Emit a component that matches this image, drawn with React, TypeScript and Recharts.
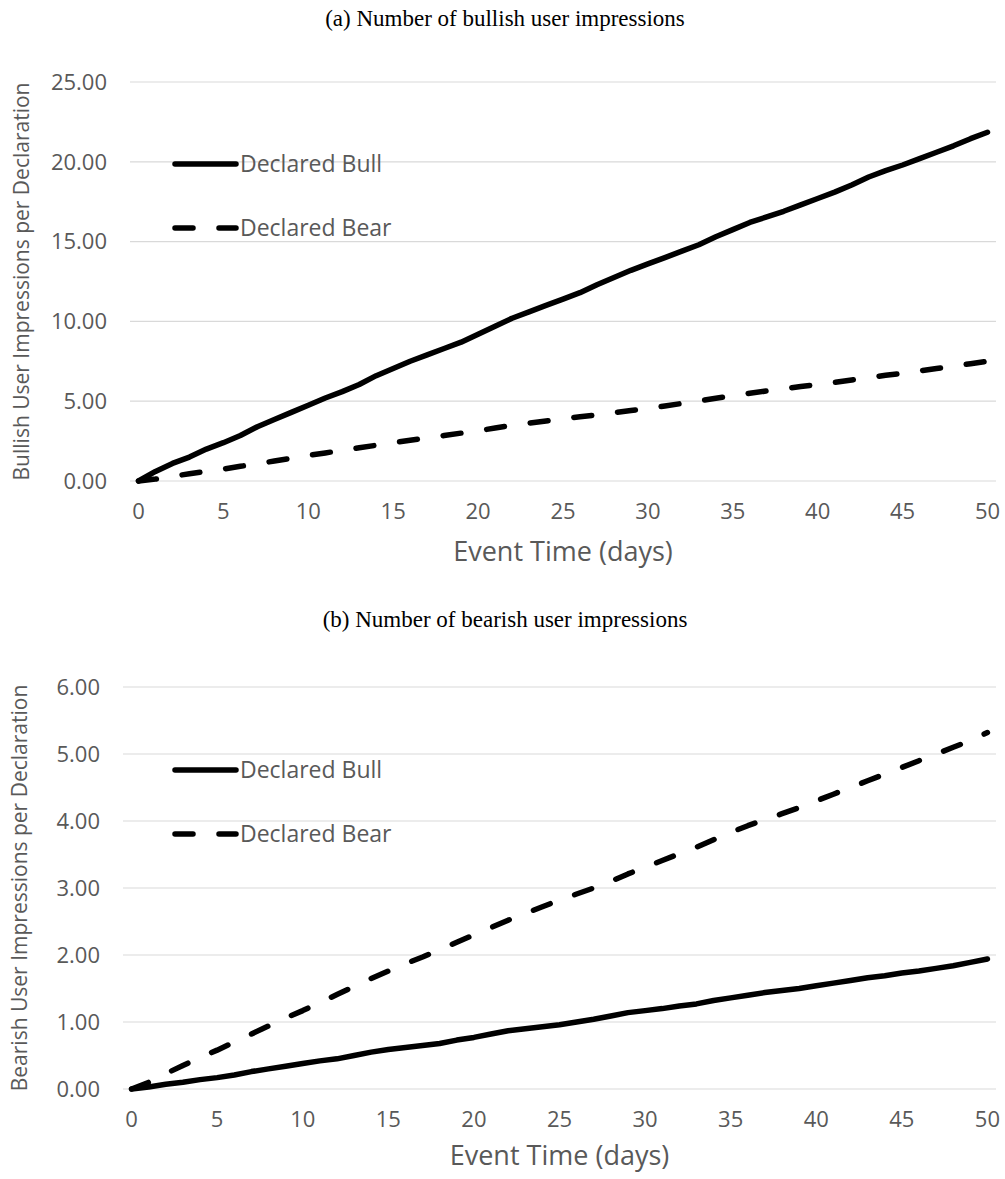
import React from "react";
import { LineChart, Line, XAxis, YAxis, CartesianGrid } from "recharts";

// event days 0..50
const days = [
  0, 1, 2, 3, 4, 5, 6, 7, 8, 9, 10, 11, 12, 13, 14, 15, 16, 17, 18, 19, 20,
  21, 22, 23, 24, 25, 26, 27, 28, 29, 30, 31, 32, 33, 34, 35, 36, 37, 38, 39,
  40, 41, 42, 43, 44, 45, 46, 47, 48, 49, 50,
];

// (a) bullish user impressions per declaration
const bullishDeclaredBull = [
  0, 0.6, 1.1, 1.5, 2.0, 2.4, 2.85, 3.4, 3.85, 4.3, 4.75, 5.2, 5.6, 6.05,
  6.6, 7.05, 7.5, 7.9, 8.3, 8.7, 9.2, 9.7, 10.2, 10.6, 11.0, 11.4, 11.8, 12.3,
  12.75, 13.2, 13.6, 14.0, 14.4, 14.8, 15.3, 15.75, 16.2, 16.55, 16.9, 17.3,
  17.7, 18.1, 18.55, 19.05, 19.45, 19.8, 20.2, 20.6, 21.0, 21.45, 21.85,
];
const bullishDeclaredBear = [
  0, 0.12, 0.3, 0.45, 0.6, 0.75, 0.92, 1.08, 1.25, 1.42, 1.6, 1.76, 1.92,
  2.08, 2.24, 2.4, 2.55, 2.7, 2.85, 3.0, 3.15, 3.32, 3.5, 3.63, 3.76, 3.9,
  4.02, 4.15, 4.28, 4.42, 4.55, 4.7, 4.86, 5.02, 5.18, 5.35, 5.5, 5.64, 5.78,
  5.92, 6.05, 6.18, 6.33, 6.48, 6.62, 6.75, 6.9, 7.05, 7.2, 7.35, 7.5,
];

// (b) bearish user impressions per declaration
const bearishDeclaredBull = [
  0, 0.03, 0.07, 0.1, 0.14, 0.17, 0.21, 0.26, 0.3, 0.34, 0.38, 0.42, 0.45,
  0.5, 0.55, 0.59, 0.62, 0.65, 0.68, 0.73, 0.77, 0.82, 0.87, 0.9, 0.93, 0.96,
  1.0, 1.04, 1.09, 1.14, 1.17, 1.2, 1.24, 1.27, 1.32, 1.36, 1.4, 1.44, 1.47,
  1.5, 1.54, 1.58, 1.62, 1.66, 1.69, 1.73, 1.76, 1.8, 1.84, 1.89, 1.94,
];
const bearishDeclaredBear = [
  0, 0.1, 0.23, 0.35, 0.47, 0.58, 0.7, 0.82, 0.94, 1.06, 1.17, 1.29, 1.41,
  1.53, 1.65, 1.76, 1.87, 1.97, 2.08, 2.19, 2.3, 2.41, 2.52, 2.62, 2.72, 2.82,
  2.91, 3.0, 3.1, 3.21, 3.31, 3.41, 3.51, 3.61, 3.72, 3.83, 3.93, 4.02, 4.11,
  4.2, 4.3, 4.4, 4.5, 4.6, 4.7, 4.8, 4.9, 5.0, 5.1, 5.2, 5.32,
];

const seriesNames = ["Declared Bull", "Declared Bear"];
const xTicks = [0, 5, 10, 15, 20, 25, 30, 35, 40, 45, 50];
const yTicksA = [0, 5, 10, 15, 20, 25];
const yTicksB = [0, 1, 2, 3, 4, 5, 6];

const FONT = "'Open Sans', 'Noto Sans', sans-serif";
const GRAY = "#595959";
const DASH = "18 26";

const buildRows = (bull: number[], bear: number[]) =>
  days.map((d, i) => ({ day: d, bull: bull[i], bear: bear[i] }));

// legend drawn as an overlay so it does not eat into the plot area
const LegendBox = ({ top }: { top: number }) => (
  <svg
    width={280}
    height={100}
    style={{ position: "absolute", left: 170, top, overflow: "visible" }}
  >
    <line x1={5} x2={66} y1={14} y2={14} stroke="#000" strokeWidth={5.5} strokeLinecap="round" />
    <text x={70} y={14} dy="0.35em" fontSize={23} fill={GRAY} fontFamily={FONT}>
      {seriesNames[0]}
    </text>
    <line x1={5} x2={66} y1={78} y2={78} stroke="#000" strokeWidth={5.5} strokeLinecap="round" strokeDasharray={DASH} />
    <text x={70} y={78} dy="0.35em" fontSize={23} fill={GRAY} fontFamily={FONT}>
      {seriesNames[1]}
    </text>
  </svg>
);

type PanelProps = {
  bull: number[];
  bear: number[];
  height: number;
  margin: { top: number; right: number; bottom: number; left: number };
  yWidth: number;
  xHeight: number;
  yMax: number;
  yTicks: number[];
  yTitle: string;
  yTitleDx: number;
};

const Panel: React.FC<PanelProps> = ({
  bull,
  bear,
  height,
  margin,
  yWidth,
  xHeight,
  yMax,
  yTicks,
  yTitle,
  yTitleDx,
}) => (
  <LineChart
    width={1005}
    height={height}
    data={buildRows(bull, bear)}
    margin={margin}
    style={{ fontFamily: FONT }}
  >
    <CartesianGrid vertical={false} stroke="#d9d9d9" strokeWidth={1.2} />
    <XAxis
      dataKey="day"
      type="number"
      domain={[-0.5, 50.5]}
      ticks={xTicks}
      axisLine={false}
      tickLine={false}
      tickSize={0}
      tickMargin={22}
      height={xHeight}
      tick={{ fontSize: 22, fill: GRAY }}
      label={{
        value: "Event Time (days)",
        position: "insideBottom",
        offset: 5,
        style: { fontSize: 27, fill: GRAY, fontFamily: FONT },
      }}
    />
    <YAxis
      domain={[0, yMax]}
      ticks={yTicks}
      axisLine={false}
      tickLine={false}
      tickSize={0}
      tickMargin={23}
      width={yWidth}
      tick={{ fontSize: 22, fill: GRAY }}
      tickFormatter={(v: number) => v.toFixed(2)}
      label={{
        value: yTitle,
        angle: -90,
        position: "center",
        dx: yTitleDx,
        style: { fontSize: 21, fill: GRAY, fontFamily: FONT, whiteSpace: "pre" },
      }}
    />
    <Line
      dataKey="bull"
      name={seriesNames[0]}
      type="linear"
      stroke="#000"
      strokeWidth={5.5}
      strokeLinejoin="round"
      strokeLinecap="round"
      dot={false}
      activeDot={false}
      isAnimationActive={false}
    />
    <Line
      dataKey="bear"
      name={seriesNames[1]}
      type="linear"
      stroke="#000"
      strokeWidth={5.5}
      strokeDasharray={DASH}
      strokeLinejoin="round"
      strokeLinecap="round"
      dot={false}
      activeDot={false}
      isAnimationActive={false}
    />
  </LineChart>
);

const titleStyle: React.CSSProperties = {
  position: "absolute",
  left: 0,
  width: 1010,
  textAlign: "center",
  fontFamily: "'Liberation Serif', 'Times New Roman', serif",
  fontSize: 23,
  color: "#000",
};

export default function App() {
  return (
    <div
      style={{
        position: "absolute",
        left: 0,
        top: 0,
        width: 1005,
        height: 1179,
        background: "#fff",
        overflow: "hidden",
      }}
    >
      <div style={{ ...titleStyle, top: 6 }}>(a) Number of bullish user impressions</div>
      <div style={{ ...titleStyle, top: 607 }}>(b) Number of bearish user impressions</div>

      <div style={{ position: "absolute", left: 0, top: 0 }}>
        <Panel
          bull={bullishDeclaredBull}
          bear={bullishDeclaredBear}
          height={600}
          margin={{ top: 82, right: 9, bottom: 34, left: 0 }}
          yWidth={130}
          xHeight={85}
          yMax={25}
          yTicks={yTicksA}
          yTitle="Bullish User Impressions per Declaration"
          yTitleDx={-43}
        />
        <LegendBox top={150} />
      </div>

      <div style={{ position: "absolute", left: 0, top: 600 }}>
        <Panel
          bull={bearishDeclaredBull}
          bear={bearishDeclaredBear}
          height={579}
          margin={{ top: 87, right: 9, bottom: 9, left: 0 }}
          yWidth={123}
          xHeight={81}
          yMax={6}
          yTicks={yTicksB}
          yTitle="Bearish  User Impressions per Declaration"
          yTitleDx={-42}
        />
        <LegendBox top={156} />
      </div>
    </div>
  );
}
